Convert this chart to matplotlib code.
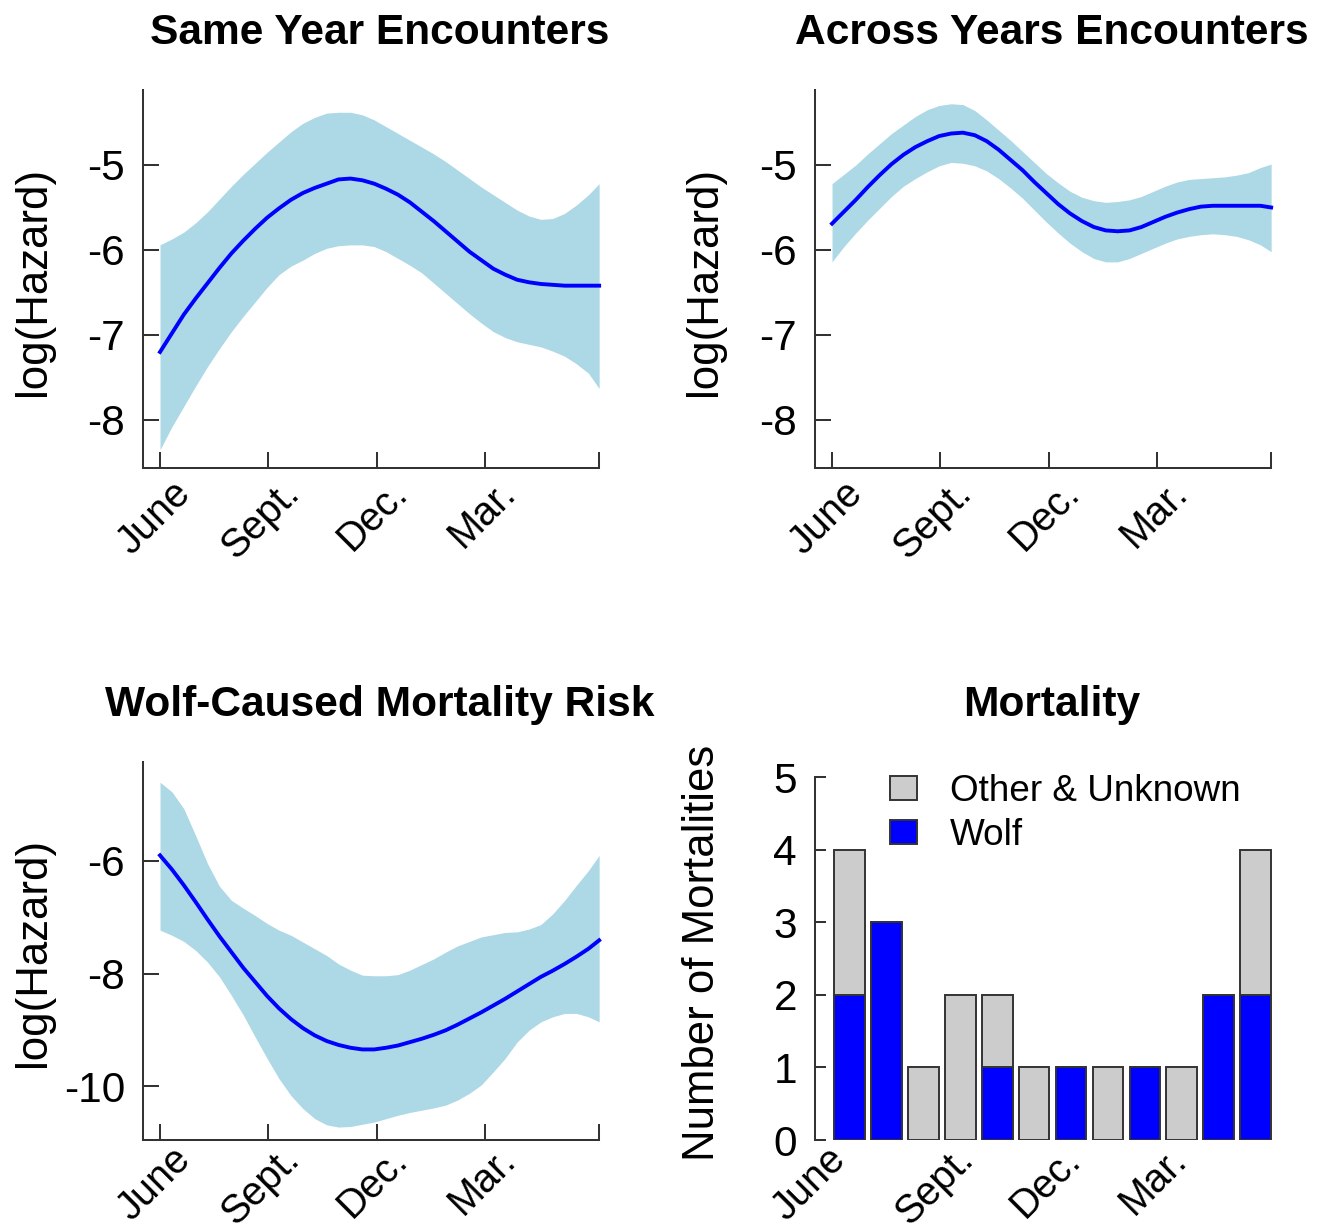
import matplotlib
matplotlib.use("Agg")
import matplotlib.pyplot as plt
from matplotlib.patches import Patch
from matplotlib.transforms import ScaledTranslation

plt.rcParams['font.family'] = ['Liberation Sans', 'DejaVu Sans']
plt.rcParams['axes.unicode_minus'] = False

# ---------------- data ----------------
days = [0, 10, 20, 30, 40, 50, 60, 70, 80, 90, 100, 110, 120, 130, 140, 150, 160,
        170, 180, 190, 200, 210, 220, 230, 240, 250, 260, 270, 280, 290, 300, 310,
        320, 330, 340, 350, 360, 369]

same_fit = [-7.20, -6.98, -6.76, -6.57, -6.39, -6.21, -6.04, -5.89, -5.75, -5.62,
            -5.51, -5.41, -5.33, -5.27, -5.22, -5.17, -5.16, -5.18, -5.22, -5.28,
            -5.35, -5.44, -5.55, -5.66, -5.78, -5.90, -6.02, -6.12, -6.22, -6.29,
            -6.35, -6.38, -6.40, -6.41, -6.42, -6.42, -6.42, -6.42]
same_hi = [-5.94, -5.87, -5.79, -5.68, -5.55, -5.40, -5.25, -5.11, -4.98, -4.85,
           -4.73, -4.61, -4.51, -4.44, -4.39, -4.38, -4.38, -4.41, -4.47, -4.55,
           -4.63, -4.71, -4.79, -4.87, -4.96, -5.06, -5.16, -5.26, -5.35, -5.44,
           -5.53, -5.60, -5.64, -5.63, -5.57, -5.47, -5.35, -5.22]
same_lo = [-8.35, -8.08, -7.84, -7.60, -7.37, -7.16, -6.96, -6.78, -6.61, -6.44,
           -6.29, -6.19, -6.12, -6.04, -5.98, -5.95, -5.94, -5.94, -5.96, -6.02,
           -6.10, -6.18, -6.27, -6.39, -6.51, -6.63, -6.75, -6.86, -6.96, -7.03,
           -7.08, -7.11, -7.14, -7.19, -7.25, -7.34, -7.45, -7.63]

across_fit = [-5.69, -5.55, -5.41, -5.26, -5.12, -4.99, -4.88, -4.79, -4.72, -4.66,
              -4.63, -4.62, -4.65, -4.72, -4.82, -4.94, -5.06, -5.20, -5.33, -5.46,
              -5.57, -5.66, -5.73, -5.77, -5.78, -5.77, -5.73, -5.67, -5.61, -5.56,
              -5.52, -5.49, -5.48, -5.48, -5.48, -5.48, -5.48, -5.50]
across_hi = [-5.22, -5.11, -5.00, -4.87, -4.75, -4.63, -4.53, -4.43, -4.35, -4.30,
             -4.28, -4.29, -4.36, -4.47, -4.59, -4.71, -4.84, -4.97, -5.10, -5.21,
             -5.31, -5.38, -5.42, -5.44, -5.43, -5.41, -5.37, -5.31, -5.25, -5.20,
             -5.17, -5.16, -5.15, -5.14, -5.12, -5.09, -5.03, -4.99]
across_lo = [-6.14, -5.96, -5.80, -5.65, -5.51, -5.37, -5.25, -5.16, -5.08, -5.01,
             -4.97, -4.98, -5.01, -5.07, -5.16, -5.27, -5.39, -5.53, -5.67, -5.80,
             -5.92, -6.02, -6.10, -6.14, -6.14, -6.10, -6.04, -5.98, -5.92, -5.87,
             -5.84, -5.82, -5.81, -5.82, -5.84, -5.88, -5.94, -6.02]

wolf_fit = [-5.90, -6.15, -6.43, -6.73, -7.04, -7.34, -7.62, -7.90, -8.15, -8.40,
            -8.62, -8.81, -8.97, -9.10, -9.20, -9.27, -9.32, -9.35, -9.35, -9.32,
            -9.28, -9.22, -9.16, -9.09, -9.01, -8.91, -8.80, -8.69, -8.57, -8.45,
            -8.32, -8.19, -8.06, -7.95, -7.83, -7.70, -7.56, -7.41]
wolf_hi = [-4.60, -4.77, -5.07, -5.55, -6.05, -6.45, -6.70, -6.84, -6.97, -7.11,
           -7.23, -7.32, -7.44, -7.56, -7.68, -7.83, -7.94, -8.03, -8.04, -8.04,
           -8.02, -7.94, -7.84, -7.74, -7.62, -7.51, -7.43, -7.35, -7.31, -7.27,
           -7.26, -7.21, -7.13, -6.94, -6.70, -6.43, -6.17, -5.90]
wolf_lo = [-7.23, -7.32, -7.43, -7.59, -7.80, -8.06, -8.39, -8.74, -9.13, -9.51,
           -9.87, -10.17, -10.40, -10.58, -10.69, -10.73, -10.72, -10.68, -10.64,
           -10.58, -10.52, -10.47, -10.43, -10.39, -10.34, -10.25, -10.13, -9.98,
           -9.75, -9.51, -9.22, -9.01, -8.86, -8.77, -8.71, -8.71, -8.77, -8.86]

month_labels = ['June', 'Sept.', 'Dec.', 'Mar.']
month_days = [0, 91, 182, 273]
year_end = 369

mort_wolf = [2, 3, 0, 0, 1, 0, 1, 0, 1, 0, 2, 2]
mort_other = [2, 0, 1, 2, 1, 1, 0, 1, 0, 1, 0, 2]
bar_month_pos = [-0.93, 2.52, 5.43, 8.29]

# ---------------- style ----------------
W, H = 1323, 1230
fig = plt.figure(figsize=(W / 100, H / 100), dpi=100)

AX_COL = '#333333'
BAND = '#ADD8E6'
LINE = '#0000FF'
GRAY = '#CCCCCC'
FS_TICK = 30.5
FS_XTICK = 28.5
FS_TITLE = 30.6
FS_LAB = 31.5


def px_axes(left, top, right, bottom):
    return fig.add_axes([left / W, 1 - bottom / H, (right - left) / W, (bottom - top) / H])


def style_axes(ax, xlen=11.5, ylen=11.5, xpad=4):
    for s in ['top', 'right']:
        ax.spines[s].set_visible(False)
    for s in ['left', 'bottom']:
        ax.spines[s].set_color(AX_COL)
        ax.spines[s].set_linewidth(1.45)
    ax.tick_params(axis='y', direction='in', length=ylen, width=1.45, color=AX_COL,
                   labelsize=FS_TICK, pad=13)
    ax.tick_params(axis='x', direction='in', length=xlen, width=1.45, color=AX_COL,
                   labelsize=FS_XTICK, pad=xpad)


def xlabels(ax, positions, with_end):
    ticks = list(positions) + ([year_end] if with_end else [])
    labs = month_labels + ([''] if with_end else [])
    ax.set_xticks(ticks)
    ax.set_xticklabels(labs, rotation=45, ha='right', va='top', rotation_mode='anchor')
    off = ScaledTranslation(0.11, 0, fig.dpi_scale_trans)
    for lab in ax.get_xticklabels():
        lab.set_transform(lab.get_transform() + off)


def hazard_panel(ax, lo, fit, hi, ylim, yticks, title, xpad):
    ax.fill_between(days, lo, hi, color=BAND, linewidth=0, zorder=1)
    ax.plot(days, fit, color=LINE, lw=2.8, zorder=2, solid_joinstyle='round')
    ax.set_xlim(-14.3, 384)
    ax.set_ylim(*ylim)
    style_axes(ax, xpad=xpad)
    ax.spines['bottom'].set_bounds(-14.3, year_end)
    xlabels(ax, month_days, True)
    ax.set_yticks(yticks)
    ax.set_yticklabels([str(v) for v in yticks])
    ax.set_title(title, fontsize=FS_TITLE, fontweight='bold', pad=33)


ax1 = px_axes(143, 90, 617, 468)
hazard_panel(ax1, same_lo, same_fit, same_hi, (-8.565, -4.118), [-8, -7, -6, -5],
             'Same Year Encounters', 4)
ax2 = px_axes(815, 90, 1289, 468)
hazard_panel(ax2, across_lo, across_fit, across_hi, (-8.565, -4.118), [-8, -7, -6, -5],
             'Across Years Encounters', 4)
ax3 = px_axes(143, 762, 617, 1140)
hazard_panel(ax3, wolf_lo, wolf_fit, wolf_hi, (-10.96, -4.24), [-10, -8, -6],
             'Wolf-Caused Mortality Risk', 0)

# ---- bar panel ----
ax4 = px_axes(815, 762, 1289, 1140)
xb = list(range(len(mort_wolf)))
ax4.bar(xb, mort_wolf, width=0.833, color=LINE, edgecolor=AX_COL, linewidth=1.4,
        zorder=2)
ax4.bar(xb, mort_other, width=0.833, bottom=mort_wolf, color=GRAY, edgecolor=AX_COL,
        linewidth=1.4, zorder=2)
ax4.set_xlim(-0.876, 11.9)
ax4.set_ylim(0, 5.207)
style_axes(ax4, xlen=0, ylen=8, xpad=0)
ax4.spines['bottom'].set_visible(False)
ax4.spines['left'].set_bounds(0, 5)
ax4.set_yticks([0, 1, 2, 3, 4, 5])
xlabels(ax4, bar_month_pos, False)
ax4.set_title('Mortality', fontsize=FS_TITLE, fontweight='bold', pad=33)

handles = [Patch(facecolor=GRAY, edgecolor=AX_COL, linewidth=1.4),
           Patch(facecolor=LINE, edgecolor=AX_COL, linewidth=1.4)]
ax4.legend(handles, ['Other & Unknown', 'Wolf'], loc='upper left',
           bbox_to_anchor=(890 / W, 1 - 774 / H), bbox_transform=fig.transFigure,
           frameon=False, fontsize=26.6, handlelength=0.73, handleheight=0.62,
           handletextpad=0.9, labelspacing=0.24, borderpad=0, borderaxespad=0)

# ---- y labels ----
fig.text(34 / W, 1 - 281 / H, 'log(Hazard)', rotation=90, ha='center', va='center',
         fontsize=FS_LAB)
fig.text(705 / W, 1 - 281 / H, 'log(Hazard)', rotation=90, ha='center', va='center',
         fontsize=FS_LAB)
fig.text(34 / W, 1 - 952 / H, 'log(Hazard)', rotation=90, ha='center', va='center',
         fontsize=FS_LAB)
fig.text(703 / W, 1 - 953 / H, 'Number of Mortalities', rotation=90, ha='center',
         va='center', fontsize=FS_LAB)

fig.savefig('out.png', dpi=100, facecolor='white')
